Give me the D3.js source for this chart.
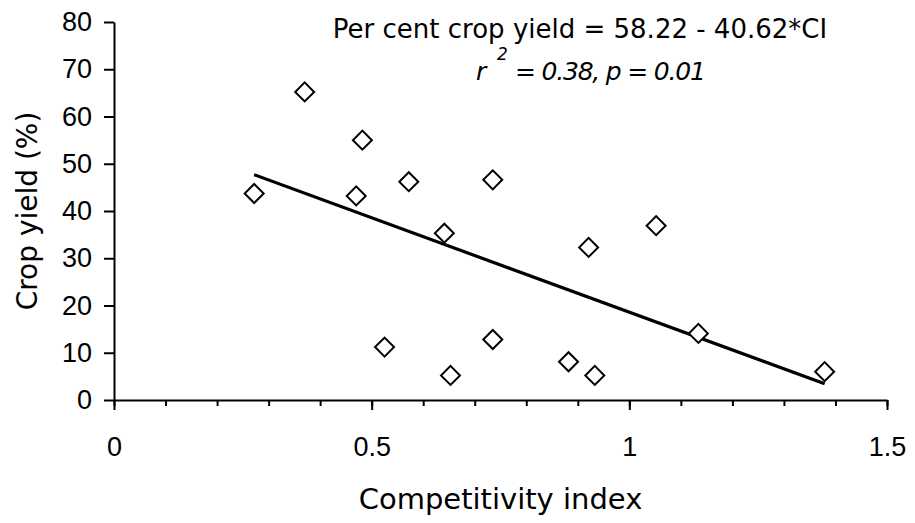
<!DOCTYPE html>
<html>
<head>
<meta charset="utf-8">
<script src="https://cdn.jsdelivr.net/npm/d3@7"></script>
<style>
body { margin: 0; background: #fff; }
svg { display: block; }
</style>
</head>
<body>
<script>
// competitivity index (x) and crop yield % (y)
var ciValues = [0.272, 0.370, 0.470, 0.482, 0.525, 0.572, 0.641, 0.653, 0.735, 0.735, 0.882, 0.921, 0.933, 1.052, 1.134, 1.379];
var yieldValues = [43.7, 65.2, 43.2, 55.0, 11.2, 46.2, 35.3, 5.2, 46.6, 12.8, 8.1, 32.3, 5.2, 36.9, 14.1, 6.0];

var xTicks = [0, 0.5, 1, 1.5];
var xMinorTicks = d3.range(0, 16).map(function(i){ return i / 10; });
var yTicks = [0, 10, 20, 30, 40, 50, 60, 70, 80];

var equationText = "Per cent crop yield = 58.22 - 40.62*CI";
var statsText = "= 0.38, p = 0.01";

var chart = {
	width: 915,
	height: 523,
	left: 114,
	right: 887,
	top: 22,
	bottom: 400
};

var points = ciValues.map(function(ci, i){
	return { x: ci, y: yieldValues[i] };
});

var svg = d3.select("body")
	.append("svg")
	.attr("width", chart.width)
	.attr("height", chart.height);

var x = d3.scaleLinear().domain([0, 1.5]).range([chart.left, chart.right]);
var y = d3.scaleLinear().domain([0, 80]).range([chart.bottom, chart.top]);

//minor ticks on x first, no labels
svg.append("g")
	.attr("transform", "translate(0," + chart.bottom + ")")
	.call(d3.axisBottom(x).tickValues(xMinorTicks).tickSize(6).tickFormat(""))
	.call(function(g){ g.select(".domain").remove(); })
	.selectAll("line").attr("stroke-width", 2);

var xAxis = svg.append("g")
	.attr("transform", "translate(0," + chart.bottom + ")")
	.call(d3.axisBottom(x).tickValues(xTicks).tickSize(10).tickSizeOuter(0).tickPadding(27).tickFormat(d3.format("")));

var yAxis = svg.append("g")
	.attr("transform", "translate(" + chart.left + ",0)")
	.call(d3.axisLeft(y).tickValues(yTicks).tickSize(10).tickSizeOuter(0).tickPadding(12));

[xAxis, yAxis].forEach(function(g){
	g.select(".domain").attr("stroke-width", 2);
	g.selectAll("line").attr("stroke-width", 2);
	g.selectAll("text")
		.attr("font-family", "'Liberation Sans', Arial, sans-serif")
		.attr("font-size", 27)
		.attr("fill", "#000");
});

// least squares line through the points
var mx = d3.mean(ciValues), my = d3.mean(yieldValues);
var sxy = d3.sum(points, function(d){ return (d.x - mx) * (d.y - my); });
var sxx = d3.sum(points, function(d){ return (d.x - mx) * (d.x - mx); });
var slope = sxy / sxx;
var intercept = my - slope * mx;
var ext = d3.extent(ciValues);

svg.append("line")
	.attr("x1", x(ext[0]))
	.attr("y1", y(intercept + slope * ext[0]))
	.attr("x2", x(ext[1]))
	.attr("y2", y(intercept + slope * ext[1]))
	.attr("stroke", "#000")
	.attr("stroke-width", 3.2);

svg.selectAll(".pt")
	.data(points)
	.enter()
	.append("path")
	.attr("class", "pt")
	.attr("d", d3.symbol(d3.symbolSquare, 180))
	.attr("transform", function(d){
		return "translate(" + x(d.x) + "," + y(d.y) + ") rotate(45)";
	})
	.attr("fill", "#fff")
	.attr("stroke", "#000")
	.attr("stroke-width", 2);

svg.append("text")
	.attr("x", 580)
	.attr("y", 38)
	.attr("text-anchor", "middle")
	.attr("font-family", "'DejaVu Sans', sans-serif")
	.attr("font-size", 26)
	.text(equationText);

var stats = svg.append("text")
	.attr("y", 80)
	.attr("font-family", "'DejaVu Sans', sans-serif")
	.attr("font-style", "italic")
	.attr("font-size", 25);
stats.append("tspan").attr("x", 476).text("r");
stats.append("tspan").attr("x", 497).attr("font-size", 17).attr("dy", -20).text("2");
stats.append("tspan").attr("x", 515).attr("dy", 20).attr("letter-spacing", -1.2).text(statsText);

svg.append("text")
	.attr("x", (chart.left + chart.right) / 2)
	.attr("y", 509)
	.attr("text-anchor", "middle")
	.attr("font-family", "'DejaVu Sans', sans-serif")
	.attr("font-size", 29)
	.text("Competitivity index");

svg.append("text")
	.attr("transform", "translate(37," + ((chart.top + chart.bottom) / 2) + ") rotate(-90)")
	.attr("text-anchor", "middle")
	.attr("font-family", "'DejaVu Sans', sans-serif")
	.attr("font-size", 28)
	.text("Crop yield (%)");
</script>
</body>
</html>
